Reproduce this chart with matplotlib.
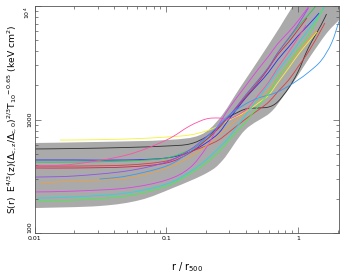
import numpy as np
import matplotlib
matplotlib.use('Agg')
import matplotlib.pyplot as plt
from matplotlib.path import Path
from matplotlib.patches import PathPatch
from matplotlib.ticker import LogLocator, NullFormatter

# Banda cinza (limites)
r_up = [0.01, 0.03, 0.1, 0.18, 0.255, 0.362, 0.514, 0.73, 0.916, 2.1]
s_up = [621, 634, 659, 729, 1030, 1897, 3485, 6530, 10000, 44000]
r_lo = [0.01, 0.0312, 0.0629, 0.112, 0.203, 0.269, 0.396, 0.612, 0.769, 0.983, 1.234, 1.66, 2.1]
s_lo = [166, 173, 195, 249, 338, 440, 807, 1140, 1578, 2366, 3553, 5780, 7700]

grid = [0.01, 0.02, 0.05, 0.1, 0.15, 0.2, 0.25, 0.3, 0.4, 0.5, 0.6, 0.7, 0.85, 1.0, 1.2, 1.5]

# Perfis individuais
r_black = grid + [1.65]
s_black = [550, 555, 567, 584, 608, 701, 859, 1052, 1237, 1263, 1289, 1427, 1895, 2621, 4266, 6800, 8500]
r_yellow = [0.0155] + grid[1:15] + [1.4]
s_yellow = [660, 660, 673, 701, 730, 792, 876, 990, 1165, 1398, 1644, 2097, 2842, 3702, 4818, 5900]
r_blue = grid[:15] + [1.45]
s_blue = [440, 440, 440, 458, 517, 621, 760, 1010, 1547, 2055, 2621, 3344, 4354, 5442, 6800, 8670]
r_green = grid[:15] + [1.37]
s_green = [422, 422, 431, 458, 539, 660, 842, 1073, 1611, 2228, 2901, 3855, 5121, 6530, 8330, 10000]
r_red1 = grid + [1.6]
s_red1 = [389, 389, 397, 431, 517, 584, 660, 776, 1010, 1213, 1427, 1747, 2228, 2901, 3934, 6145, 7080]
r_red2 = grid[:14] + [1.17]
s_red2 = [374, 374, 382, 414, 507, 660, 842, 1073, 1578, 2140, 2842, 3702, 4818, 6145, 7840]
r_pink = grid[:14] + [1.15]
s_pink = [389, 405, 487, 660, 876, 1010, 1031, 1010, 1213, 1644, 2140, 2842, 3934, 5224, 6800]
r_purple = grid[:15]
s_purple = [311, 318, 352, 422, 539, 701, 876, 1073, 1644, 2228, 2901, 3855, 5224, 6800, 9600]
r_magenta = grid[:15]
s_magenta = [230, 234, 249, 293, 374, 561, 894, 1263, 1973, 2786, 3627, 4627, 5900, 7375, 9800]
r_orange = [0.011] + grid[1:15] + [1.4]
s_orange = [276, 287, 305, 374, 467, 584, 730, 876, 1165, 1485, 1819, 2320, 3083, 3934, 5017, 6145]
r_dodger = [0.031] + grid[2:] + [1.8, 2.05]
s_dodger = [299, 318, 389, 517, 687, 894, 1096, 1370, 1547, 1644, 1747, 1973, 2228, 2600, 3300, 4700, 7300]
r_cyan = [0.0105] + grid[1:] + [1.58]
s_cyan = [203, 208, 225, 270, 345, 440, 561, 701, 1096, 1547, 2055, 2675, 3553, 4627, 6145, 8855, 9800]
r_lime = [0.0105] + grid[1:] + [1.53]
s_lime = [191, 195, 212, 259, 331, 414, 517, 660, 951, 1315, 1712, 2320, 3147, 4097, 5442, 8855, 9500]

perfis = [
    (r_black, s_black, '#303030'),
    (r_yellow, s_yellow, '#f4f430'),
    (r_blue, s_blue, '#2a2af0'),
    (r_green, s_green, '#20c850'),
    (r_red1, s_red1, '#e03a3a'),
    (r_red2, s_red2, '#d8204c'),
    (r_pink, s_pink, '#ff4fa8'),
    (r_purple, s_purple, '#9050e8'),
    (r_magenta, s_magenta, '#e040e8'),
    (r_orange, s_orange, '#f0a040'),
    (r_dodger, s_dodger, '#3a98f0'),
    (r_cyan, s_cyan, '#22dada'),
    (r_lime, s_lime, '#48ee48'),
]


def curva_suave(rr, ss):
    # caminho Bezier (Catmull-Rom em log) passando pelos pontos lidos
    p = np.column_stack([np.log10(rr), np.log10(ss)])
    n = len(p)
    verts = [p[0]]
    codes = [Path.MOVETO]
    for i in range(n - 1):
        p0 = p[i - 1] if i > 0 else p[i]
        p3 = p[i + 2] if i + 2 < n else p[i + 1]
        c1 = p[i] + (p[i + 1] - p0) / 6.0
        c2 = p[i + 1] - (p3 - p[i]) / 6.0
        verts += [c1, c2, p[i + 1]]
        codes += [Path.CURVE4] * 3
    return np.power(10.0, np.array(verts)), codes


fig = plt.figure(figsize=(3.42, 2.73), dpi=100)
ax = fig.add_axes([0.102, 0.1465, 0.889, 0.8315])

ax.set_xscale('log')
ax.set_yscale('log')

# banda: limite superior e inferior suavizados
vu, cu = curva_suave(r_up, s_up)
vl, cl = curva_suave(r_lo[::-1], s_lo[::-1])
verts = np.vstack([vu, vl, vu[:1]])
codes = cu + [Path.LINETO] + cl[1:] + [Path.CLOSEPOLY]
ax.add_patch(PathPatch(Path(verts, codes), facecolor='#aaaaaa', lw=0, zorder=1))

for rr, ss, cor in perfis:
    v, c = curva_suave(rr, ss)
    ax.add_patch(PathPatch(Path(v, c), facecolor='none', edgecolor=cor, lw=0.6, zorder=2))

ax.set_xlim(0.01, 2.05)
ax.set_ylim(100, 10000)

ax.set_xticks([0.01, 0.1, 1])
ax.set_xticklabels(['0.01', '0.1', '1'])
ax.set_yticks([100, 1000, 10000])
ax.set_yticklabels(['100', '1000', r'10$^4$'], rotation=90, va='center')
ax.get_yticklabels()[0].set_va('bottom')
ax.get_yticklabels()[2].set_va('top')
ax.xaxis.set_minor_locator(LogLocator(base=10, subs=np.arange(2, 10)))
ax.yaxis.set_minor_locator(LogLocator(base=10, subs=np.arange(2, 10)))
ax.xaxis.set_minor_formatter(NullFormatter())
ax.yaxis.set_minor_formatter(NullFormatter())
ax.tick_params(which='both', direction='in', top=True, right=True, labelsize=4.5,
               width=0.5, color='#555555', pad=2)
ax.tick_params(which='major', length=4)
ax.tick_params(which='minor', length=2)
for sp in ax.spines.values():
    sp.set_linewidth(0.6)
    sp.set_color('#555555')

ax.set_xlabel(r'r / r$_{500}$', fontsize=7, labelpad=14)
ax.set_ylabel(r'S(r)  E$^{4/3}$(z)($\Delta_{\rm c,z}/\Delta_{\rm c,0}$)$^{2/3}$T$_{10}$$^{-0.65}$ (keV cm$^2$)',
              fontsize=6.6, labelpad=3)

fig.savefig('out.png', dpi=100)
